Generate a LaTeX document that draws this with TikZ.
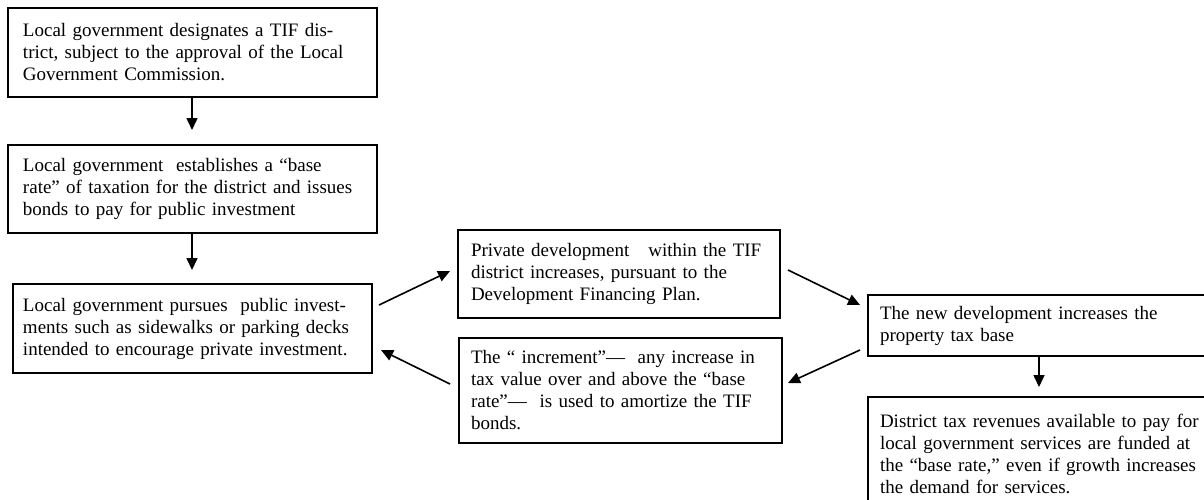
\documentclass[tikz,border=0pt]{standalone}
\usepackage{fontspec}
\setmainfont{Liberation Serif}
\usetikzlibrary{arrows.meta}
\newcommand{\boxline}[1]{\mbox{#1}}
\begin{document}
\begin{tikzpicture}[x=0.5pt,y=-0.5pt,
  box/.style={draw, line width=1pt, align=left, anchor=north west,
    font=\fontsize{9.5pt}{11pt}\selectfont, inner ysep=0pt},
  arr/.style={line width=0.8pt, -{Triangle[length=6pt,width=5.5pt]}}]
\path[use as bounding box] (0,0) rectangle (1204,499);
\clip (0,0) rectangle (1204,499);
\node[box, inner xsep=7.5pt, text width=169.5pt, minimum height=44.5pt] (b1) at (7,7)
  {\boxline{Local government designates a TIF dis-}\\\boxline{trict, subject to the approval of the Local}\\\boxline{Government Commission.}};
\node[box, inner xsep=7.5pt, text width=169.5pt, minimum height=44pt] (b2) at (7,144)
  {\boxline{Local government\ \ establishes a “base}\\\boxline{rate” of taxation for the district and issues}\\\boxline{bonds to pay for public investment}};
\node[box, inner xsep=5pt, text width=169.5pt, minimum height=44.5pt] (b3) at (12,283)
  {\boxline{Local government pursues\ \ public invest-}\\\boxline{ments such as sidewalks or parking decks}\\\boxline{intended to encourage private investment.}};
\node[box, inner xsep=6.5pt, text width=148pt, minimum height=44pt] (b4) at (457,229)
  {\boxline{Private development\ \ \ within the TIF}\\\boxline{district increases, pursuant to the}\\\boxline{Development Financing Plan.}};
\node[box, inner xsep=6pt, text width=149.5pt, minimum height=52.5pt] (b5) at (458,337)
  {\boxline{The “ increment”—\ \ any increase in}\\\boxline{tax value over and above the “base}\\\boxline{rate”—\ \ is used to amortize the TIF}\\\boxline{bonds.}};
\node[box, inner xsep=6pt, text width=163pt, minimum height=30.5pt] (b6) at (867,294)
  {\boxline{The new development increases the}\\\boxline{property tax base}};
\node[box, inner xsep=6pt, inner ysep=6pt, text width=163pt, minimum height=57pt] (b7) at (867,396)
  {\boxline{District tax revenues available to pay for}\\\boxline{local government services are funded at}\\\boxline{the “base rate,” even if growth increases}\\\boxline{the demand for services.}};
\coordinate (a3s) at (379,305); \coordinate (a3e) at (450,271);
\coordinate (a4s) at (788,270); \coordinate (a4e) at (860,305);
\coordinate (a5s) at (860,350); \coordinate (a5e) at (788,383);
\coordinate (a6s) at (450,384); \coordinate (a6e) at (381,350);
\draw[arr, shorten >=7pt] (b1.south -| 192,0) -- (b2.north -| 192,0);
\draw[arr, shorten >=6.5pt] (b2.south -| 192,0) -- (b3.north -| 192,0);
\draw[arr] (a3s) -- (a3e);
\draw[arr] (a4s) -- (a4e);
\draw[arr] (a5s) -- (a5e);
\draw[arr] (a6s) -- (a6e);
\draw[arr, shorten >=4.5pt] (b6.south -| 1039,0) -- (b7.north -| 1039,0);
\end{tikzpicture}
\end{document}
